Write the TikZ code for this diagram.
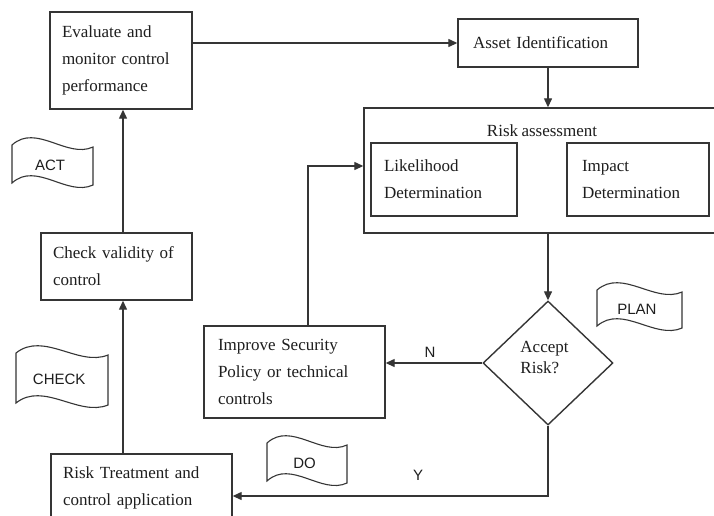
\documentclass[tikz,border=0pt]{standalone}
\usepackage{fontspec}
\setmainfont{Liberation Serif}
\newfontfamily\tagfont{Liberation Sans}
\usetikzlibrary{arrows.meta,shapes.geometric}
\definecolor{ink}{HTML}{353535}
\definecolor{txt}{HTML}{1E1E1E}
\newcommand\boxfont{\fontsize{17}{27}\selectfont\spaceskip=0.2em\relax}
\tikzset{
  stepbox/.style={draw=ink, line width=1.4pt, rectangle, align=left, inner ysep=0pt,
    font=\boxfont, text=txt},
  flow/.style={draw=ink, line width=1.3pt, -{Triangle[length=9pt,width=8pt]}},
  tag/.style={font=\tagfont\fontsize{15}{18}\selectfont, text=txt, inner sep=0pt},
  flagline/.style={draw=ink, line width=1.1pt},
}
% wavy banner: #1 name, #2 left x, #3 top y, #4 width, #5 height, #6 text
\newcommand\wavyflag[6]{%
  \pgfmathsetmacro\fxa{#2+0.3*#4}%
  \pgfmathsetmacro\fxb{#2+0.68*#4}%
  \pgfmathsetmacro\fxc{#2+#4}%
  \pgfmathsetmacro\fya{#3-22}%
  \pgfmathsetmacro\fyb{#3+14}%
  \pgfmathsetmacro\fyr{#3+2}%
  \pgfmathsetmacro\fyc{#3+#5}%
  \pgfmathsetmacro\fyd{#3+#5-22}%
  \pgfmathsetmacro\fye{#3+#5+14}%
  \pgfmathsetmacro\fyrr{#3+#5+2}%
  \pgfmathsetmacro\fmx{#2+0.47*#4}%
  \pgfmathsetmacro\fmy{#3+0.5*#5+1}%
  \draw[flagline] (#2,#3) .. controls (\fxa,\fya) and (\fxb,\fyb) .. (\fxc,\fyr)
    -- (\fxc,\fyrr) .. controls (\fxb,\fye) and (\fxa,\fyd) .. (#2,\fyc) -- cycle;
  \node[tag] (#1) at (\fmx,\fmy) {#6};%
}
\begin{document}
\begin{tikzpicture}[x=1pt,y=-1pt]
\useasboundingbox (0,0) rectangle (714,515);
\clip (0,0) rectangle (714,515);
\fill[white] (0,0) rectangle (714,515);

% process boxes
\node[stepbox, text width=118pt, inner xsep=12pt, minimum height=97pt] (eval) at (121,60.5)
  {Evaluate and\\monitor control\\performance};
\node[stepbox, text width=150pt, inner xsep=15pt, minimum height=48pt] (asset) at (548,43)
  {Asset Identification};
\node[stepbox, minimum width=366pt, minimum height=125pt] (risk) at (547,170.5) {};
\node[font=\boxfont, text=txt, inner sep=0pt] (risktitle) at (542,131) {Risk assessment};
\node[stepbox, text width=120pt, inner xsep=13pt, minimum height=73pt] (like) at (444,179.5)
  {Likelihood\\Determination};
\node[stepbox, text width=112pt, inner xsep=15pt, minimum height=73pt] (impact) at (638,179.5)
  {Impact\\Determination};
\node[draw=ink, line width=1.4pt, diamond, inner sep=0pt, minimum width=130pt, minimum height=124pt] (dia) at (548,363) {};
\node[align=left, font=\fontsize{17}{21}\selectfont, text=txt, inner sep=0pt] (diatext) at (544.5,357.5) {Accept\\Risk?};
\node[stepbox, text width=153pt, inner xsep=14pt, minimum height=92pt] (improve) at (294.5,372)
  {Improve Security\\Policy or technical\\controls};
\node[stepbox, text width=127pt, inner xsep=12pt, minimum height=67pt] (check) at (116.5,266.5)
  {Check validity of\\control};
\node[stepbox, text width=157pt, inner xsep=12pt, minimum height=68pt] (treat) at (141.5,488)
  {Risk Treatment and\\control application};

% connectors
\draw[flow] (eval.east |- asset.west) -- (asset.west);
\draw[flow] (asset.south) -- (asset.south |- risk.north);
\draw[flow] (dia.north |- risk.south) -- (dia.north);
\draw[flow] (dia.west) -- (dia.west -| improve.east);
\draw[flow] ([xshift=13.5pt]improve.north) |- ([yshift=4.5pt]risk.west);
\draw[flow] (dia.south) |- ([yshift=-8pt]treat.east);
\draw[flow] ([xshift=6.5pt]check.south |- treat.north) -- ([xshift=6.5pt]check.south);
\draw[flow] ([xshift=6.5pt]check.north) -- ([xshift=6.5pt]check.north |- eval.south);

% branch labels
\node[tag] (nlabel) at (430,352) {N};
\node[tag] (ylabel) at (418,475) {Y};

% PDCA banners
\wavyflag{act}{12}{145}{81}{38}{ACT}
\wavyflag{chk}{16}{353}{92}{50}{CHECK}
\wavyflag{do}{267}{443}{80}{38}{DO}
\wavyflag{plan}{597}{290}{85}{36}{PLAN}
\end{tikzpicture}
\end{document}
